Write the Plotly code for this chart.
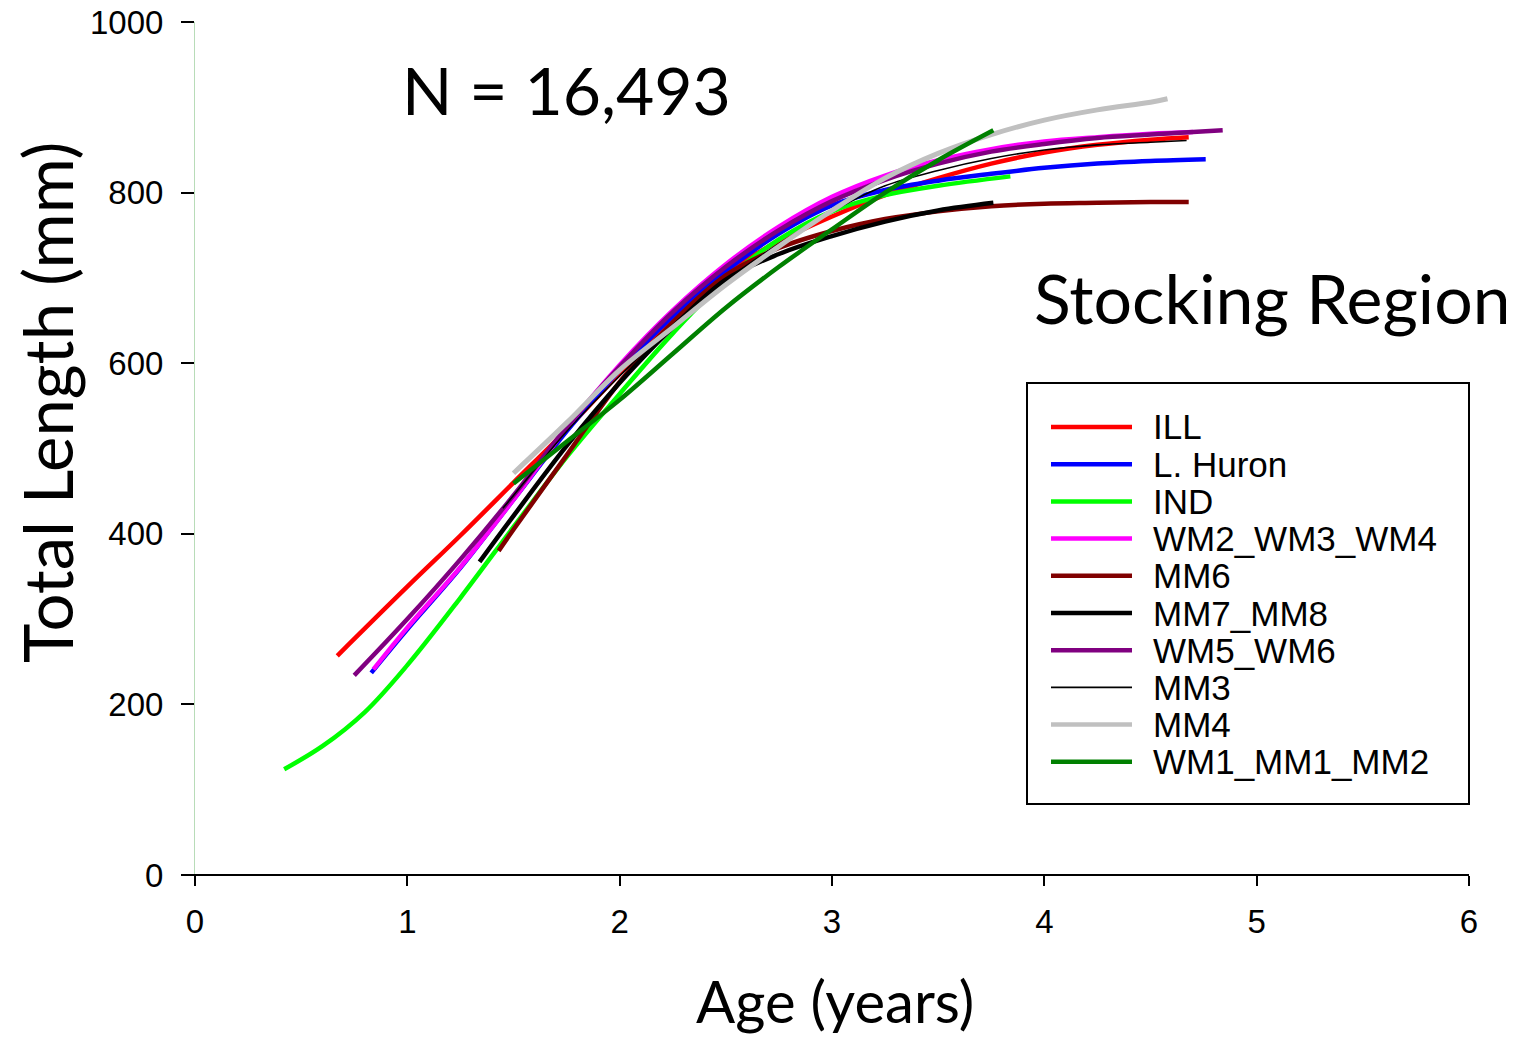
import plotly.graph_objects as go

# ---------------- data ----------------
series_names = ["ILL", "L. Huron", "IND", "WM2_WM3_WM4", "MM6", "MM7_MM8",
                "WM5_WM6", "MM3", "MM4", "WM1_MM1_MM2"]

ill_age = [0.67, 1.0, 1.25, 1.5, 1.75, 2.0, 2.25, 2.5, 2.75, 3.0, 3.25, 3.5, 3.75, 4.0, 4.25, 4.5, 4.68]
ill_len = [257, 338, 398, 460, 522, 588, 650, 706, 743, 772, 797, 817, 834, 847, 856, 862, 865]

huron_age = [0.83, 1.0, 1.25, 1.5, 1.75, 2.0, 2.25, 2.5, 2.75, 3.0, 3.25, 3.5, 3.75, 4.0, 4.25, 4.5, 4.76]
huron_len = [237, 288, 360, 440, 520, 592, 655, 708, 752, 785, 803, 814, 822, 829, 834, 837, 839]

ind_age = [0.42, 0.6, 0.8, 1.0, 1.25, 1.5, 1.75, 2.0, 2.25, 2.5, 2.75, 3.0, 3.25, 3.5, 3.84]
ind_len = [124, 151, 191, 246, 325, 408, 490, 564, 635, 698, 745, 778, 797, 808, 819]

wm234_age = [0.84, 1.0, 1.25, 1.5, 1.75, 2.0, 2.25, 2.5, 2.75, 3.0, 3.25, 3.5, 3.75, 4.0, 4.25, 4.5, 4.7]
wm234_len = [241, 290, 361, 440, 524, 598, 662, 716, 760, 795, 820, 838, 851, 860, 865, 869, 871]

mm6_age = [1.43, 1.5, 1.75, 2.0, 2.25, 2.5, 2.75, 3.0, 3.25, 3.5, 3.75, 4.0, 4.25, 4.5, 4.68]
mm6_len = [380, 405, 492, 578, 648, 703, 735, 755, 769, 778, 784, 787, 788, 789, 789]

mm78_age = [1.34, 1.5, 1.75, 2.0, 2.25, 2.5, 2.75, 3.0, 3.25, 3.5, 3.76]
mm78_len = [367, 421, 503, 577, 642, 698, 728, 749, 766, 779, 788]

wm56_age = [0.75, 1.0, 1.25, 1.5, 1.75, 2.0, 2.25, 2.5, 2.75, 3.0, 3.25, 3.5, 3.75, 4.0, 4.25, 4.5, 4.84]
wm56_len = [234, 300, 370, 445, 525, 596, 660, 713, 756, 790, 815, 834, 848, 857, 864, 868, 873]

mm3_age = [1.45, 1.5, 1.75, 2.0, 2.25, 2.5, 2.75, 3.0, 3.25, 3.5, 3.75, 4.0, 4.25, 4.5, 4.67]
mm3_len = [430, 445, 520, 585, 645, 697, 740, 778, 808, 826, 840, 850, 856, 859, 861]

mm4_age = [1.5, 1.75, 2.0, 2.25, 2.5, 2.75, 3.0, 3.25, 3.5, 3.75, 4.0, 4.25, 4.5, 4.58]
mm4_len = [471, 530, 592, 642, 692, 737, 779, 817, 846, 868, 885, 897, 906, 910]

wm1_age = [1.5, 1.75, 2.0, 2.25, 2.5, 2.75, 3.0, 3.25, 3.5, 3.76]
wm1_len = [459, 508, 557, 611, 665, 713, 757, 800, 838, 873]

series_ages = [ill_age, huron_age, ind_age, wm234_age, mm6_age, mm78_age,
               wm56_age, mm3_age, mm4_age, wm1_age]
series_lens = [ill_len, huron_len, ind_len, wm234_len, mm6_len, mm78_len,
               wm56_len, mm3_len, mm4_len, wm1_len]

x_ticks = [0, 1, 2, 3, 4, 5, 6]
y_ticks = [0, 200, 400, 600, 800, 1000]

# ---------------- styles ----------------
colors = ["#FF0000", "#0000FF", "#00FF00", "#FF00FF", "#800000", "#000000",
          "#800080", "#000000", "#C0C0C0", "#008000"]
widths = [4.5, 4.5, 4.5, 4.5, 4.5, 4.5, 4.5, 1.6, 5, 4.5]

# page body has an 8px margin -> figure is drawn 8px down/right
OFF = 8
W, H = 1514 - OFF, 1037 - OFF
# plot area in reference pixel coordinates
X0_REF, X1_REF, Y0_REF, Y1_REF = 195, 1469, 22, 875
L_M = X0_REF - OFF
T_M = Y0_REF - OFF
R_M = W - (X1_REF - OFF)
B_M = H - (Y1_REF - OFF)
PW = X1_REF - X0_REF
PH = Y1_REF - Y0_REF


def px(xp):
    return (xp - X0_REF) / PW


def py(yp):
    return (Y1_REF - yp) / PH


TITLE_FONT = "Lato, Open Sans, sans-serif"
TICK_FONT = "Liberation Sans, Arial, sans-serif"

fig = go.Figure()
for name, ages, lens, c, w in zip(series_names, series_ages, series_lens, colors, widths):
    fig.add_trace(go.Scatter(
        x=ages, y=lens, mode="lines", name=name,
        line=dict(color=c, width=w, shape="spline", smoothing=1.0),
        showlegend=False, hoverinfo="x+y+name"))

shapes = []
annotations = []

# x-axis line extended to the left to meet the y tick
shapes.append(dict(type="line", xref="paper", yref="paper",
                   x0=px(182), x1=1, y0=0, y1=0,
                   line=dict(color="black", width=2)))

# manual legend (box, samples, labels)
shapes.append(dict(type="rect", xref="paper", yref="paper",
                   x0=px(1027), x1=px(1469), y0=py(804), y1=py(383),
                   line=dict(color="black", width=2), fillcolor="white", layer="above"))
for i, (name, c, w) in enumerate(zip(series_names, colors, widths)):
    yy = 427 + 37.2 * i
    shapes.append(dict(type="line", xref="paper", yref="paper",
                       x0=px(1051), x1=px(1132), y0=py(yy), y1=py(yy),
                       line=dict(color=c, width=w if w < 4 else 4.5), layer="above"))
    annotations.append(dict(xref="paper", yref="paper", x=px(1151), y=py(yy),
                            text=name, showarrow=False, xanchor="left", yanchor="middle",
                            font=dict(family=TICK_FONT, size=35, color="black")))

annotations += [
    dict(xref="paper", yref="paper", x=px(47), y=py(403), text="Total Length (mm)",
         textangle=-90, showarrow=False, xanchor="center", yanchor="middle",
         font=dict(family=TITLE_FONT, size=67, color="black")),
    dict(xref="paper", yref="paper", x=px(835), y=py(1000), text="Age (years)",
         showarrow=False, xanchor="center", yanchor="middle",
         font=dict(family=TITLE_FONT, size=58, color="black")),
    dict(xref="paper", yref="paper", x=px(566), y=py(90), text="N = 16,493",
         showarrow=False, xanchor="center", yanchor="middle",
         font=dict(family=TITLE_FONT, size=66, color="black")),
    dict(xref="paper", yref="paper", x=px(1272), y=py(297), text="Stocking Region",
         showarrow=False, xanchor="center", yanchor="middle",
         font=dict(family=TITLE_FONT, size=68, color="black")),
]

fig.update_layout(
    width=W, height=H,
    margin=dict(l=L_M, r=R_M, t=T_M, b=B_M, autoexpand=False),
    paper_bgcolor="white", plot_bgcolor="white",
    showlegend=False,
    shapes=shapes, annotations=annotations,
    xaxis=dict(range=[0, 6], tickvals=x_ticks, ticktext=[str(v) for v in x_ticks],
               automargin=False,
               showgrid=False, zeroline=False, showline=False,
               ticks="outside", ticklen=10, tickwidth=2, tickcolor="black",
               ticklabelstandoff=7,
               tickfont=dict(family=TICK_FONT, size=33, color="black")),
    yaxis=dict(range=[0, 1000], tickvals=y_ticks, ticktext=[str(v) for v in y_ticks],
               automargin=False,
               showgrid=False, zeroline=False, showline=True, linecolor="#b8dcb8", linewidth=1,
               ticks="outside", ticklen=13, tickwidth=2, tickcolor="black",
               ticklabelstandoff=11, ticklabeloverflow="allow",
               tickfont=dict(family=TICK_FONT, size=33, color="black")),
)

fig.write_html("out.html")
